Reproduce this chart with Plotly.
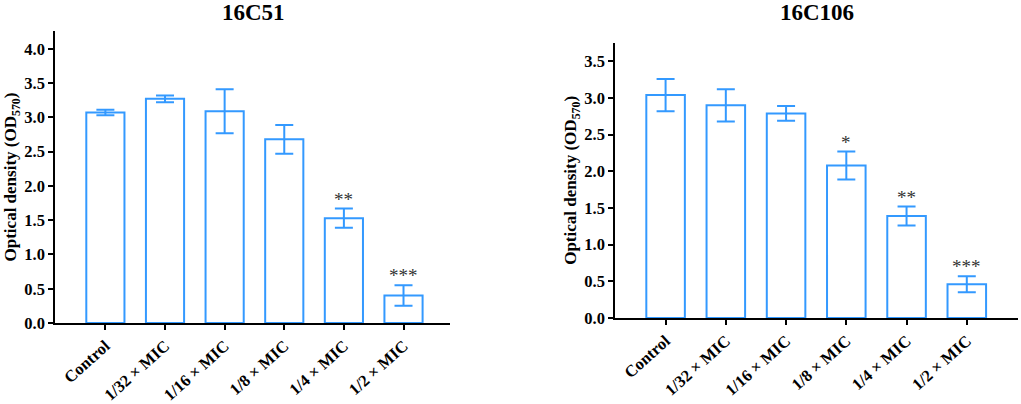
import plotly.graph_objects as go

categories = ["Control", "1/32 × MIC", "1/16 × MIC", "1/8 × MIC", "1/4 × MIC", "1/2 × MIC"]

# 16C51
od_c51 = [3.07, 3.27, 3.09, 2.68, 1.53, 0.40]
err_c51 = [0.04, 0.05, 0.32, 0.21, 0.14, 0.15]
sig_c51 = ["", "", "", "", "**", "***"]

# 16C106
od_c106 = [3.04, 2.90, 2.79, 2.08, 1.39, 0.46]
err_c106 = [0.22, 0.22, 0.10, 0.19, 0.13, 0.11]
sig_c106 = ["", "", "", "*", "**", "***"]

blue = "#3399ff"
font = "Liberation Serif, Times New Roman, serif"

fig = go.Figure()

panels = [
    ("x", "y", od_c51, err_c51, sig_c51),
    ("x2", "y2", od_c106, err_c106, sig_c106),
]
for xa, ya, od, err, sig in panels:
    fig.add_trace(go.Bar(
        x=categories, y=od, xaxis=xa, yaxis=ya,
        width=0.64,
        marker=dict(color="white", line=dict(color=blue, width=2)),
        error_y=dict(type="data", array=err, color=blue, thickness=2, width=9),
        showlegend=False,
    ))
    for c, v, e, s in zip(categories, od, err, sig):
        if s:
            fig.add_annotation(x=c, y=v + e, xref=xa, yref=ya, text=s,
                               showarrow=False, yanchor="bottom", yshift=-3,
                               font=dict(family=font, size=19, color="#333"))

axis_common = dict(
    showline=True, linecolor="black", linewidth=1.5,
    ticks="outside", ticklen=5, tickwidth=1.5, tickcolor="black",
    showgrid=False, zeroline=False, automargin=False,
)
xtick_font = dict(family=font, size=16.5, color="black", weight="bold")
ytick_font = dict(family=font, size=16.5, color="black", weight="bold")
ytitle_font = dict(family=font, size=17, color="black", weight="bold")

fig.update_layout(
    width=1021, height=404,
    margin=dict(l=55, r=3, t=31, b=81),
    plot_bgcolor="white", paper_bgcolor="white",
    xaxis=dict(domain=[0, 0.4102], range=[-0.845, 5.78], tickangle=-42,
               anchor="y", tickfont=xtick_font, **axis_common),
    yaxis=dict(domain=[0, 1], range=[0, 4.26], dtick=0.5, tickformat=".1f",
               anchor="x", tickfont=ytick_font,
               title=dict(text="Optical density (OD<sub>570</sub>)", standoff=3,
                          font=ytitle_font),
               **axis_common),
    xaxis2=dict(domain=[0.5815, 1.0], range=[-0.84, 5.85], tickangle=-42,
                anchor="y2", tickfont=xtick_font, **axis_common),
    yaxis2=dict(domain=[0.0171, 0.960], range=[0, 3.755], dtick=0.5, tickformat=".1f",
                anchor="x2", tickfont=ytick_font,
                title=dict(text="Optical density (OD<sub>570</sub>)", standoff=3,
                           font=ytitle_font),
                **axis_common),
)

# panel titles, placed in paper units (plot area is 963 x 292 px)
fig.add_annotation(x=(253 - 55) / 963, y=1 + (31 - 12) / 292, xref="paper", yref="paper",
                   text="<b>16C51</b>", showarrow=False, xanchor="center", yanchor="middle",
                   font=dict(family=font, size=23, color="black"))
fig.add_annotation(x=(817 - 55) / 963, y=1 + (31 - 12) / 292, xref="paper", yref="paper",
                   text="<b>16C106</b>", showarrow=False, xanchor="center", yanchor="middle",
                   font=dict(family=font, size=23, color="black"))

# drop the default page margin so the figure sits at the window corner
fig.write_html("out.html", config={"displayModeBar": False},
               post_script="document.body.style.margin='0';")
